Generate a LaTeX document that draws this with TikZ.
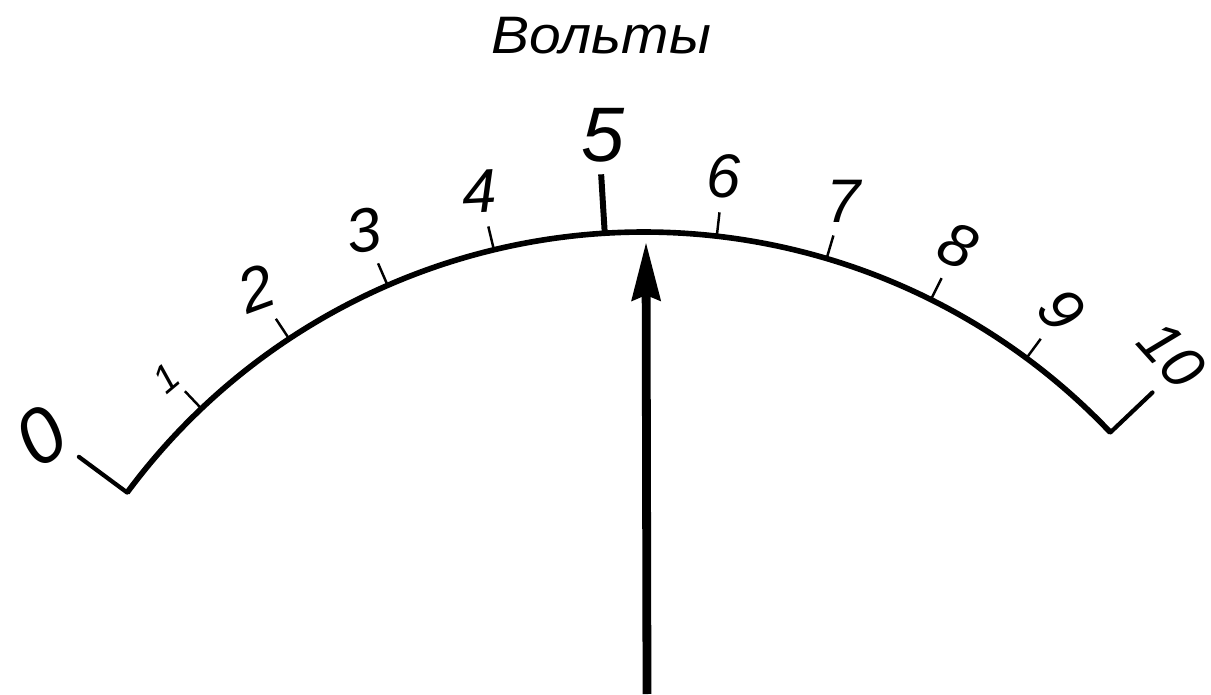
\documentclass[tikz,border=0pt]{standalone}
\usepackage{fontspec}
\setmainfont{Liberation Sans}
\usetikzlibrary{arrows.meta}

\begin{document}
\begin{tikzpicture}[
    digit/.style={font=\fontsize{35}{40}\selectfont\itshape},
    bigdigit/.style={font=\fontsize{44}{48}\selectfont\itshape},
    scaletick/.style={line width=1.4pt},
    endtick/.style={line width=2.4pt, line cap=round},
    pointer/.style={line width=5pt, -{Stealth[length=1.16cm, width=0.56cm, inset=0.1cm]}}]

    \useasboundingbox (0,0) rectangle (24.22,13.88);
    \coordinate (c) at (12.88,-3.62);

    % Scale arc
    \draw[line width=3.2pt] ([shift={(143.5:12.86)}]c) arc[start angle=143.5, end angle=43.5, radius=12.86];

    % End ticks and middle tick
    \draw[endtick] ([shift={(143.5:12.86)}]c) -- ([shift={(143.5:14.06)}]c);
    \draw[endtick] ([shift={(43.5:12.86)}]c) -- ([shift={(43.5:14.02)}]c);
    \draw[line width=3.4pt] ([shift={(93.5:12.86)}]c) -- ([shift={(93.5:14.04)}]c);

    % Small ticks
    \foreach \v in {1,2,3,4,6,7,8,9}
        \draw[scaletick] ([shift={({143.5-10*\v}:12.86)}]c) -- ([shift={({143.5-10*\v}:13.34)}]c);

    % Numbers
    \node[bigdigit, rotate=35] (n0) at ([shift={(144:14.92)}]c) {0};
    \node[font=\fontsize{22}{26}\selectfont\itshape, rotate=40] (n1) at ([shift={(133.9:13.78)}]c) {1};
    \foreach \v/\rot in {2/20, 3/10, 4/3, 6/0, 7/0, 8/-25, 9/-50}
        \node[digit, rotate=\rot] (n\v) at ([shift={({143.5-10*\v}:14.06)}]c) {\v};
    \node[bigdigit] (n5) at ([shift={(93.2:14.82)}]c) {5};
    \node[font=\fontsize{34}{38}\selectfont\itshape, rotate=-48, inner sep=0pt] (n10) at ([shift={(44.6:14.82)}]c) {10};

    % Title
    \node[font=\fontsize{30}{34}\selectfont\itshape, xscale=1.08] (title) at (12.02,13.16) {Вольты};

    % Pointer
    \coordinate (base) at (12.94,0);
    \coordinate (tip) at (12.92,9.04);
    \draw[pointer] (base) -- (tip);

\end{tikzpicture}
\end{document}
